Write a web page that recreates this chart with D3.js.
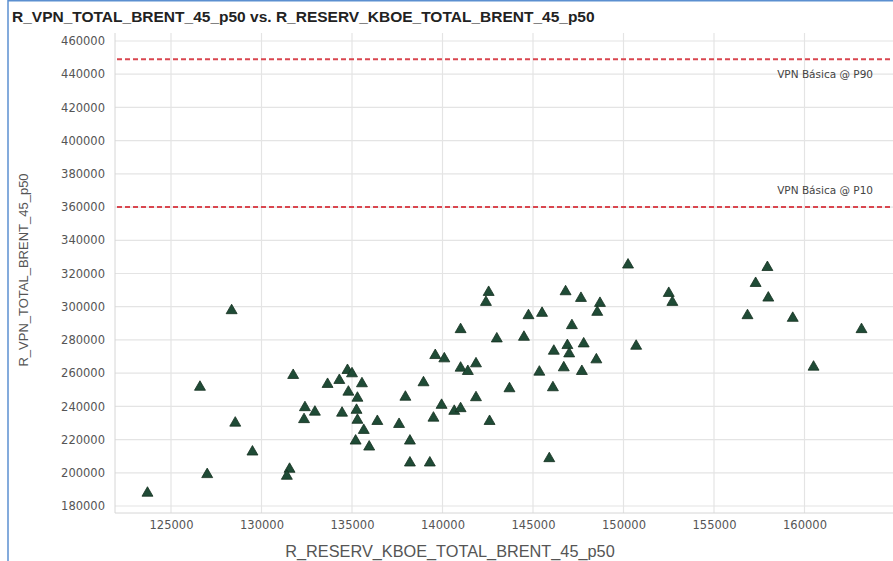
<!DOCTYPE html>
<html>
<head>
<meta charset="utf-8">
<script src="https://cdn.jsdelivr.net/npm/d3@7"></script>
<style>
  html, body { margin: 0; padding: 0; background: #fff; }
  svg { display: block; }
</style>
</head>
<body>
<div id="chart"></div>
<script>
// ---- Data ----
const reservKboe = [
  123700, 127000, 128350, 126600, 128550, 129500, 131750, 131550, 131400, 134750,
  135000, 134300, 133650, 135550, 134800, 135300, 132400, 132950, 132350, 134450,
  135250, 135300, 136400, 135650, 135200, 135950, 137950, 137600, 138200, 138200,
  138950, 150250, 142550, 142400, 146800, 147650, 148700, 148550, 152500, 152700,
  144750, 145500, 141000, 147150, 143000, 144500, 150700, 139600, 140100, 146150,
  146900, 147000, 147800, 148500, 141850, 141000, 141400, 145350, 146700, 147700,
  143700, 146100, 141850, 139950, 140650, 141000, 139500, 142600, 139300, 145900,
  157950, 157300, 158000, 156850, 159350, 163150, 160500
];
const vpnTotal = [
  187800, 199000, 297700, 251600, 230000, 212600, 258700, 202200, 198000, 261700,
  259700, 255700, 253300, 253700, 248650, 245000, 239300, 236600, 232100, 236000,
  237700, 231700, 231000, 225600, 219200, 215600, 245600, 229200, 219200, 206000,
  254300, 325200, 308700, 302700, 309100, 305100, 302100, 296700, 308100, 302700,
  294700, 296100, 286300, 288700, 280700, 281700, 276300, 270700, 268700, 273300,
  276700, 271700, 277700, 268100, 265700, 263100, 261100, 260700, 263300, 261100,
  250700, 251300, 245300, 240700, 237100, 238700, 233000, 231000, 206000, 208600,
  323700, 314100, 305300, 294700, 293100, 286300, 263700
];
const xTicks = [125000, 130000, 135000, 140000, 145000, 150000, 155000, 160000];
const yTicks = [180000, 200000, 220000, 240000, 260000, 280000, 300000, 320000,
                340000, 360000, 380000, 400000, 420000, 440000, 460000];
const refValues = [449000, 360000];
const refLabels = ["VPN Básica @ P90", "VPN Básica @ P10"];
const chartTitle = "R_VPN_TOTAL_BRENT_45_p50 vs. R_RESERV_KBOE_TOTAL_BRENT_45_p50";
const xTitle = "R_RESERV_KBOE_TOTAL_BRENT_45_p50";
const yTitle = "R_VPN_TOTAL_BRENT_45_p50";

// ---- Layout ----
const W = 893, H = 561;
const plot = { left: 115, right: 893, top: 33, bottom: 513 };

const svg = d3.select("#chart").append("svg")
  .attr("width", W).attr("height", H);

svg.append("rect").attr("width", W).attr("height", H).attr("fill", "#fff");

// Frame (blue border of the screenshot)
svg.append("line").attr("x1", 8).attr("x2", 8).attr("y1", 0).attr("y2", H)
  .attr("stroke", "#5b8fd0").attr("stroke-width", 1.5);
svg.append("line").attr("x1", 8).attr("x2", W).attr("y1", 0.75).attr("y2", 0.75)
  .attr("stroke", "#5b8fd0").attr("stroke-width", 1.5);

// Scales: fixed from the reference tick positions
const x = d3.scaleLinear()
  .domain([125000, 160000]).range([171, 171 + 7 * 90.5]);
const y = d3.scaleLinear()
  .domain([180000, 460000]).range([506, 41]);

// Title
svg.append("text")
  .attr("x", 12).attr("y", 22)
  .attr("font-family", "Liberation Sans, Arial, sans-serif")
  .attr("font-weight", "bold").attr("font-size", 15.5)
  .attr("fill", "#222")
  .text(chartTitle);

// Grid
const gGrid = svg.append("g");
gGrid.selectAll("line.h").data(yTicks).join("line")
  .attr("x1", plot.left).attr("x2", plot.right)
  .attr("y1", d => y(d)).attr("y2", d => y(d))
  .attr("stroke", "#e4e4e4").attr("stroke-width", 1.2);
gGrid.selectAll("line.v").data(xTicks).join("line")
  .attr("x1", d => x(d)).attr("x2", d => x(d))
  .attr("y1", plot.top).attr("y2", plot.bottom)
  .attr("stroke", "#e4e4e4").attr("stroke-width", 1.2);

// Plot frame (left + bottom)
svg.append("line").attr("x1", plot.left).attr("x2", plot.left)
  .attr("y1", plot.top).attr("y2", plot.bottom).attr("stroke", "#d6d6d6");
svg.append("line").attr("x1", plot.left).attr("x2", plot.right)
  .attr("y1", plot.bottom).attr("y2", plot.bottom).attr("stroke", "#d6d6d6");

// Axes via d3
const yAxis = d3.axisLeft(y).tickValues(yTicks).tickSize(0).tickPadding(10)
  .tickFormat(d3.format("d"));
const gy = svg.append("g").attr("transform", `translate(${plot.left},0)`).call(yAxis);
gy.select(".domain").remove();
gy.selectAll("text").attr("font-family", "DejaVu Sans, sans-serif")
  .attr("font-size", 11.5).attr("fill", "#555");

const xAxis = d3.axisBottom(x).tickValues(xTicks).tickSize(0).tickPadding(8)
  .tickFormat(d3.format("d"));
const gx = svg.append("g").attr("transform", `translate(0,${plot.bottom})`).call(xAxis);
gx.select(".domain").remove();
gx.selectAll("text").attr("font-family", "DejaVu Sans, sans-serif")
  .attr("font-size", 11.5).attr("fill", "#555");

// Axis titles
svg.append("text")
  .attr("x", 450).attr("y", 557)
  .attr("text-anchor", "middle")
  .attr("font-family", "Liberation Sans, Arial, sans-serif")
  .attr("font-size", 16.3).attr("fill", "#555")
  .text(xTitle);
svg.append("text")
  .attr("transform", "translate(28,270) rotate(-90)")
  .attr("text-anchor", "middle")
  .attr("font-family", "Liberation Sans, Arial, sans-serif")
  .attr("font-size", 13).attr("fill", "#555")
  .text(yTitle);

// Reference lines
const refOffsets = [19, -13];
const refs = refValues.map((v, i) => ({ v, label: refLabels[i], off: refOffsets[i] }));
svg.selectAll("line.ref").data(refs).join("line")
  .attr("class", "ref")
  .attr("x1", plot.left + 2).attr("x2", plot.right)
  .attr("y1", d => y(d.v)).attr("y2", d => y(d.v))
  .attr("stroke", "#d9464f").attr("stroke-width", 2)
  .attr("stroke-dasharray", "5,3");
svg.selectAll("text.ref").data(refs).join("text")
  .attr("class", "ref")
  .attr("x", 873).attr("y", d => y(d.v) + d.off)
  .attr("text-anchor", "end")
  .attr("font-family", "DejaVu Sans, sans-serif")
  .attr("font-size", 10.5).attr("fill", "#444")
  .text(d => d.label);

// Points
const pts = reservKboe.map((v, i) => ({ x: v, y: vpnTotal[i] }));
const tri = d3.symbol().type(d3.symbolTriangle).size(52);
svg.append("g").selectAll("path").data(pts).join("path")
  .attr("d", tri)
  .attr("transform", d => `translate(${x(d.x)},${y(d.y)})`)
  .attr("fill", "#1f4b36")
  .attr("stroke", "#15301f").attr("stroke-width", 0.8);
</script>
</body>
</html>
